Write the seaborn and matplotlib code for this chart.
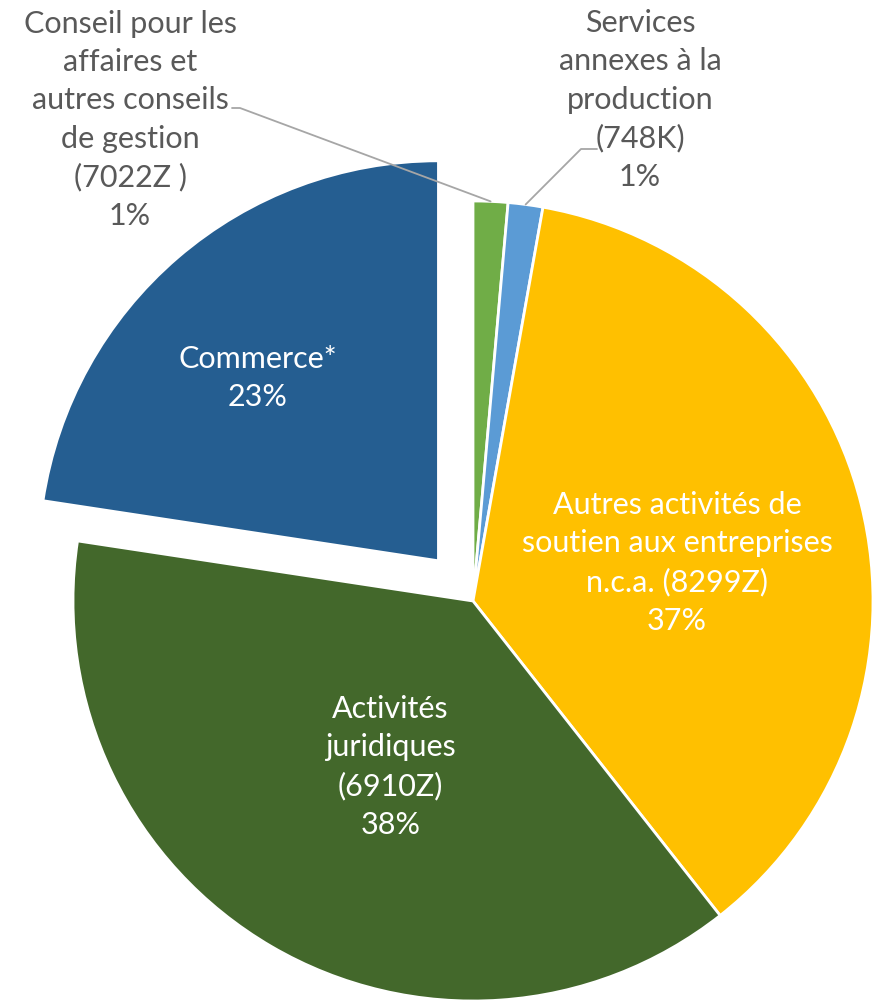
import numpy as np
import matplotlib
matplotlib.use("Agg")
import matplotlib.pyplot as plt
import seaborn as sns

# Répartition par secteur d'activité (en %)
labels = [
    "Conseil pour les\naffaires et\nautres conseils\nde gestion\n(7022Z )",
    "Services\nannexes à la\nproduction\n(748K)",
    "Autres activités de\nsoutien aux entreprises\nn.c.a. (8299Z)",
    "Activités\njuridiques\n(6910Z)",
    "Commerce*",
]
values = [1.4, 1.4, 36.6, 38.0, 22.6]
colors = ["#70AD47", "#5B9BD5", "#FFC000", "#43682B", "#255E91"]
explode = [0, 0, 0, 0, 0.1325]

sns.set_theme(style="white")
plt.rcParams["font.family"] = ["Lato", "DejaVu Sans"]

fig = plt.figure(figsize=(8.75, 10), dpi=100)
ax = fig.add_axes([0, 0, 1, 1])

wedges, _ = ax.pie(
    values,
    colors=colors,
    explode=explode,
    startangle=90,
    counterclock=False,
    radius=1.0,
    wedgeprops=dict(edgecolor="white", linewidth=2.0),
)
ax.set_xlim(-1.1825, 1.005)
ax.set_ylim(-0.9975, 1.5025)
ax.set_aspect("equal")
ax.axis("off")

pct = [f"{v:.0f}%" for v in values]
fs = 22
ls = 1.44
grey = "#595959"

# Étiquettes intérieures (blanches)
inside = {2: (0.51, 0.095), 3: (-0.207, -0.415), 4: (-0.5375, 0.5575)}
for i, (x, y) in inside.items():
    ax.text(x, y, f"{labels[i]}\n{pct[i]}", ha="center", va="center",
            color="white", fontsize=fs, linespacing=ls)

# Étiquettes extérieures avec lignes de rappel
outside = {0: (-0.8575, 1.2025), 1: (0.4175, 1.2525)}
for i, (x, y) in outside.items():
    ax.text(x, y, f"{labels[i]}\n{pct[i]}", ha="center", va="center",
            color=grey, fontsize=fs, linespacing=ls)


def edge_point(w, r=1.0):
    a = np.deg2rad((w.theta1 + w.theta2) / 2)
    return w.center[0] + r * np.cos(a), w.center[1] + r * np.sin(a)


gx, gy = edge_point(wedges[0], 1.0)
ax.plot([-0.6025, -0.5825, gx], [1.2325, 1.2325, gy], color="#A6A6A6", lw=1.3)
bx, by = edge_point(wedges[1], 1.0)
ax.plot([0.31, 0.27, bx], [1.13, 1.13, by], color="#A6A6A6", lw=1.3)

fig.savefig("out.png", dpi=100)
